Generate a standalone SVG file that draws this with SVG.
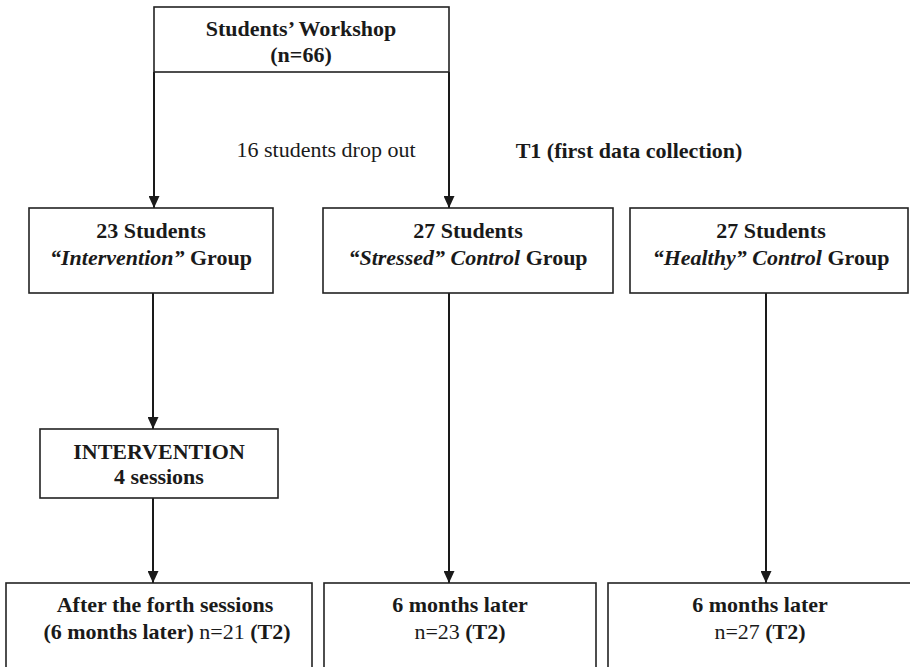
<svg xmlns="http://www.w3.org/2000/svg" width="910" height="667" viewBox="0 0 910 667">
<style>
.box{fill:#fff;stroke:#222;stroke-width:1.6}
.t{font-family:"Liberation Serif","Times New Roman",serif;font-size:22px;fill:#1a1a1a;text-anchor:middle}
.b{font-weight:bold}
.bi{font-weight:bold;font-style:italic}
.r{font-weight:normal;font-style:normal}
.c{fill:none;stroke:#1a1a1a;stroke-width:2}
</style>
<defs>
<marker id="ah" markerUnits="userSpaceOnUse" markerWidth="12" markerHeight="11" viewBox="0 0 12 11" refX="12" refY="5.5" orient="auto">
<path d="M0,0 L12,5.5 L0,11 z" fill="#1a1a1a"/>
</marker>
</defs>
<rect width="910" height="667" fill="#fff"/>
<g id="connectors">
<line class="c" x1="154" y1="72" x2="154" y2="208" marker-end="url(#ah)"/>
<line class="c" x1="449" y1="72" x2="449" y2="208" marker-end="url(#ah)"/>
<line class="c" x1="153" y1="293" x2="153" y2="429" marker-end="url(#ah)"/>
<line class="c" x1="153" y1="498" x2="153" y2="583" marker-end="url(#ah)"/>
<line class="c" x1="449" y1="293" x2="449" y2="583" marker-end="url(#ah)"/>
<line class="c" x1="766" y1="293" x2="766" y2="583" marker-end="url(#ah)"/>
</g>
<g id="workshop">
<rect class="box" x="154" y="7" width="295" height="65"/>
<text class="t b" x="301" y="36">Students’ Workshop</text>
<text class="t b" x="301" y="62">(n=66)</text>
</g>
<g id="dropout">
<text class="t" x="326" y="157">16 students drop out</text>
</g>
<g id="t1">
<text class="t b" x="629" y="158">T1 (first data collection)</text>
</g>
<g id="intervention-group">
<rect class="box" x="29" y="208" width="244" height="85"/>
<text class="t b" x="151" y="238">23 Students</text>
<text class="t b" x="151" y="265"><tspan class="bi">“Intervention”</tspan> Group</text>
</g>
<g id="stressed-group">
<rect class="box" x="323" y="208" width="290" height="85"/>
<text class="t b" x="468" y="238">27 Students</text>
<text class="t b" x="468" y="265"><tspan class="bi">“Stressed” Control</tspan> Group</text>
</g>
<g id="healthy-group">
<rect class="box" x="630" y="208" width="278" height="85"/>
<text class="t b" x="771" y="238">27 Students</text>
<text class="t b" x="771" y="265"><tspan class="bi">“Healthy” Control</tspan> Group</text>
</g>
<g id="intervention">
<rect class="box" x="40" y="429" width="238" height="69"/>
<text class="t b" x="159" y="459">INTERVENTION</text>
<text class="t b" x="159" y="484">4 sessions</text>
</g>
<g id="t2-intervention">
<rect class="box" x="6" y="583" width="306" height="90"/>
<text class="t b" x="165" y="612">After the forth sessions</text>
<text class="t b" x="167" y="639">(6 months later) <tspan class="r">n=21</tspan> (T2)</text>
</g>
<g id="t2-stressed">
<rect class="box" x="324" y="583" width="272" height="90"/>
<text class="t b" x="460" y="612">6 months later</text>
<text class="t" x="460" y="639">n=23 <tspan class="b">(T2)</tspan></text>
</g>
<g id="t2-healthy">
<rect class="box" x="608" y="583" width="310" height="90"/>
<text class="t b" x="760" y="612">6 months later</text>
<text class="t" x="760" y="639">n=27 <tspan class="b">(T2)</tspan></text>
</g>
</svg>
